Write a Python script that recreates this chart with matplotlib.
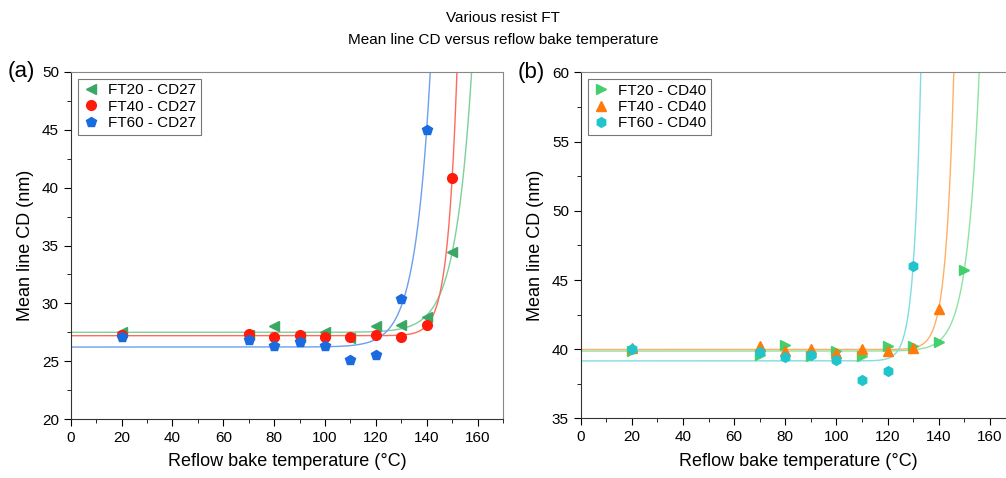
import numpy as np
import matplotlib.pyplot as plt
from matplotlib.ticker import MultipleLocator

plt.rcParams['font.family'] = ['Liberation Sans', 'DejaVu Sans']

temps = np.array([20, 70, 80, 90, 100, 110, 120, 130, 140, 150])

# panel (a): CD27
ft20_cd27 = np.array([27.5, 27.3, 28.0, 27.1, 27.5, 27.0, 28.0, 28.1, 28.8, 34.4])
ft40_cd27 = np.array([27.3, 27.35, 27.1, 27.3, 27.1, 27.1, 27.3, 27.1, 28.1, 40.8])
ft60_cd27 = np.array([27.1, 26.8, 26.3, 26.7, 26.3, 25.1, 25.5, 30.4, 45.0])

# panel (b): CD40
ft20_cd40 = np.array([39.9, 39.6, 40.3, 39.5, 39.9, 39.5, 40.2, 40.2, 40.5, 45.7])
ft40_cd40 = np.array([40.1, 40.2, 39.9, 40.05, 39.7, 40.0, 39.9, 40.1, 42.9])
ft60_cd40 = np.array([40.0, 39.8, 39.45, 39.6, 39.2, 37.8, 38.4, 46.0])


def fit_expgrow(x, y, tmin=2.7):
    # y = y0 + A*exp((x - x_max)/t), grid search on t, linear lsq for y0, A
    best = None
    xr = x.max()
    for t in np.linspace(tmin, 30, 2000):
        basis = np.column_stack([np.ones_like(x, dtype=float), np.exp((x - xr) / t)])
        coef, *_ = np.linalg.lstsq(basis, y, rcond=None)
        sse = np.sum((basis @ coef - y) ** 2)
        if best is None or sse < best[0]:
            best = (sse, coef, t)
    _, (y0, a), t = best
    return lambda xx: y0 + a * np.exp((xx - xr) / t)


fig = plt.figure(figsize=(10.06, 4.78), dpi=100)
ax1 = fig.add_axes([0.0703, 0.1234, 0.4297, 0.7260])
ax2 = fig.add_axes([0.5772, 0.1245, 0.4321, 0.7243])

panels = [
    (ax1, "(a)", (20, 50),
     [("FT20 - CD27", ft20_cd27, "<", "#3aa864", "#7dcf9c"),
      ("FT40 - CD27", ft40_cd27, "o", "#ff1a0a", "#ff6a5a"),
      ("FT60 - CD27", ft60_cd27, "p", "#1a6be0", "#6aa0ee")]),
    (ax2, "(b)", (35, 60),
     [("FT20 - CD40", ft20_cd40, ">", "#44cf6c", "#8ee3a4"),
      ("FT40 - CD40", ft40_cd40, "^", "#ff7a0a", "#ffb066"),
      ("FT60 - CD40", ft60_cd40, "h", "#22c4cc", "#7edde2")]),
]

xfine = np.linspace(0, 170, 2000)
for ax, tag, ylim, series in panels:
    for label, vals, marker, col, lcol in series:
        x = temps[:len(vals)]
        f = fit_expgrow(x, vals)
        ax.plot(xfine, f(xfine), color=lcol, lw=1.0, zorder=2)
    for label, vals, marker, col, lcol in series:
        x = temps[:len(vals)]
        ax.plot(x, vals, linestyle="none", marker=marker, color=col,
                markersize=7, label=label, zorder=3)
    ax.set_xlim(0, 170)
    ax.set_ylim(*ylim)
    ax.xaxis.set_major_locator(MultipleLocator(20))
    ax.xaxis.set_minor_locator(MultipleLocator(10))
    ax.yaxis.set_major_locator(MultipleLocator(5))
    ax.yaxis.set_minor_locator(MultipleLocator(2.5))
    ax.tick_params(which="major", direction="out", length=5, labelsize=11)
    ax.tick_params(which="minor", direction="out", length=3)
    for sp in ax.spines.values():
        sp.set_color("#333333")
    ax.spines["top"].set_color("#888888")
    ax.spines["right"].set_color("#888888")
    ax.set_xlabel("Reflow bake temperature (°C)", fontsize=13, labelpad=6)
    ax.set_ylabel("Mean line CD (nm)", fontsize=13, labelpad=6)
    leg = ax.legend(loc="upper left", fontsize=11, frameon=True, fancybox=False,
                    borderpad=0.3, handletextpad=0.5, labelspacing=0.15,
                    borderaxespad=0.45, handlelength=1.2)
    leg.get_frame().set_edgecolor("#555555")
    leg.get_frame().set_linewidth(0.8)
    ax.text(-0.145, 1.0, tag, transform=ax.transAxes, fontsize=16,
            ha="left", va="center")

fig.text(0.5, 0.962, "Various resist FT", ha="center", va="center", fontsize=11)
fig.text(0.5, 0.917, "Mean line CD versus reflow bake temperature",
         ha="center", va="center", fontsize=11)

fig.savefig("out.png", dpi=100)
